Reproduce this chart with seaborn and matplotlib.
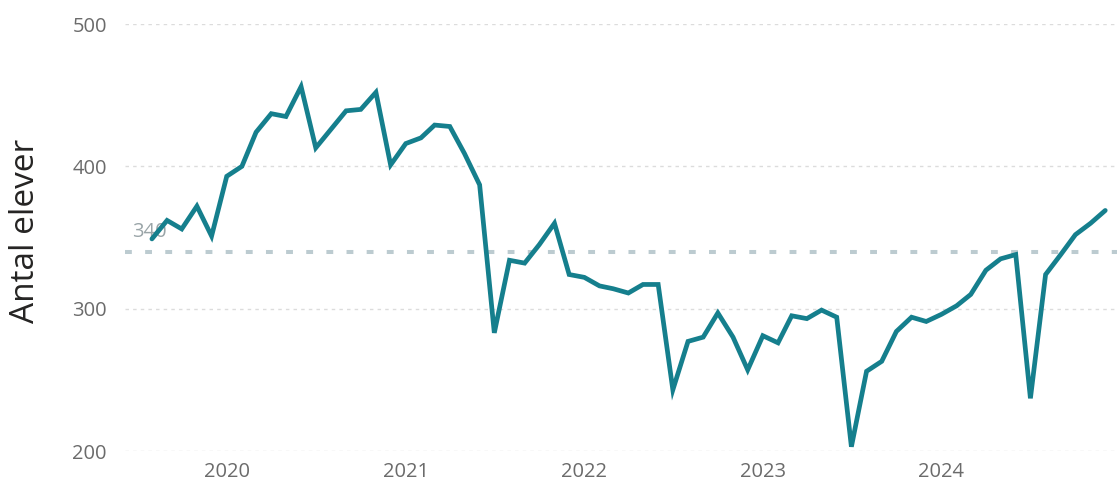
import numpy as np
import pandas as pd
import matplotlib
matplotlib.use("Agg")
import matplotlib.pyplot as plt
import matplotlib.dates as mdates
import seaborn as sns

# ---- data ----
start_month = "2019-08-01"
students = [
    349, 362, 356, 372, 351,                                   # 2019 Aug-Dec
    393, 400, 424, 437, 435, 456, 413, 426, 439, 440, 452, 401,  # 2020
    416, 420, 429, 428, 409, 387, 283, 334, 332, 345, 360, 324,  # 2021
    322, 316, 314, 311, 317, 317, 243, 277, 280, 297, 280, 257,  # 2022
    281, 276, 295, 293, 299, 294, 203, 256, 263, 284, 294, 291,  # 2023
    296, 302, 310, 327, 335, 338, 237, 324, 338, 352, 360, 369,  # 2024
]
average_value = 340
y_ticks = [200, 300, 400, 500]
year_ticks = ["2020", "2021", "2022", "2023", "2024"]
y_label = "Antal elever"

dates = pd.date_range(start_month, periods=len(students), freq="MS")
df = pd.DataFrame({"Månad": dates, "Antal elever": students})

sns.set_theme(style="white")
plt.rcParams["font.family"] = ["Open Sans", "DejaVu Sans"]

fig = plt.figure(figsize=(11.17, 4.86), dpi=100)
ax = fig.add_axes([125 / 1117, 1 - 451 / 486, 1 - 125 / 1117, (451 - 24) / 486])

# grid lines
for yt in y_ticks:
    ax.axhline(yt, color="#dcdcdc", lw=1.0, ls=(0, (2.5, 3)), zorder=0)

# average line
ax.axhline(average_value, color="#bccbd0", lw=2.9, ls=(0, (1.7, 3.3)),
           dash_capstyle="butt", zorder=1)
ax.text(0.007, average_value + 7, str(average_value), transform=ax.get_yaxis_transform(),
        color="#9aa5a8", fontsize=14.5, ha="left", va="bottom", zorder=1)

sns.lineplot(data=df, x="Månad", y="Antal elever", ax=ax, color="#157f8d",
             linewidth=3.4, zorder=3)
for ln in ax.lines[-1:]:
    ln.set_clip_on(False)
    ln.set_solid_joinstyle("miter")

ax.set_ylim(200, 500)
ax.set_yticks(y_ticks)
ax.set_xlim(pd.Timestamp("2019-06-07"), pd.Timestamp("2024-12-25"))
ax.set_xticks([pd.Timestamp(f"{y}-01-01") for y in year_ticks])
ax.set_xticklabels(year_ticks)

ax.tick_params(axis="both", length=0, labelsize=14.5, labelcolor="#6b6b6b")
ax.tick_params(axis="y", pad=13)
ax.tick_params(axis="x", pad=8)
ax.set_xlabel("")
ax.set_ylabel("")
for s in ax.spines.values():
    s.set_visible(False)

fig.text(26 / 1117, 1 - 231 / 486, y_label, rotation=90, ha="center", va="center",
         fontsize=24, color="#252423")

fig.savefig("out.png", dpi=100)
